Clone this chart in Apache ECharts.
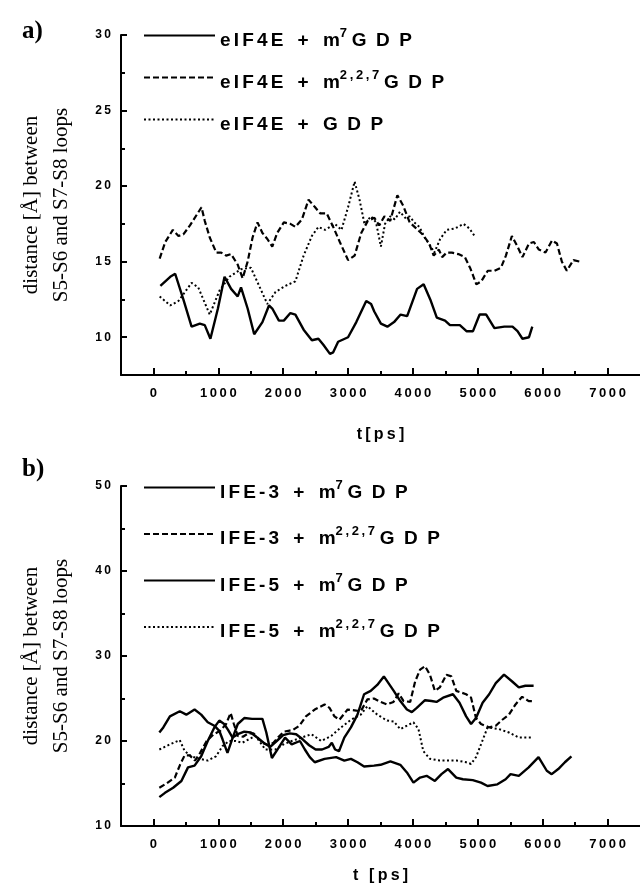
<!DOCTYPE html>
<html>
<head>
<meta charset="utf-8">
<script src="https://cdn.jsdelivr.net/npm/echarts@6/dist/echarts.min.js"></script>
<style>
  html, body { margin: 0; padding: 0; background: #fff; }
  #main { width: 640px; height: 889px; }
</style>
</head>
<body>
<div id="main"></div>
<script>
// ---- data: [t (ps), distance (Å)] ----
const eif4eM7 = [[107,13.4],[259,14.0],[335,14.2],[461,12.5],[588,10.7],[715,10.9],[791,10.8],[878,9.9],[994,11.9],[1096,14.0],[1197,13.2],[1299,12.7],[1350,13.3],[1452,11.9],[1553,10.2],[1680,11.0],[1781,12.1],[1832,11.9],[1934,11.1],[2010,11.1],[2111,11.6],[2188,11.5],[2315,10.5],[2442,9.8],[2543,9.9],[2619,9.5],[2721,8.9],[2771,9.0],[2847,9.7],[3000,10.0],[3127,11.0],[3280,12.4],[3355,12.2],[3404,11.7],[3506,10.9],[3606,10.7],[3709,11.0],[3810,11.5],[3911,11.4],[4064,13.2],[4165,13.5],[4267,12.5],[4368,11.3],[4495,11.1],[4571,10.8],[4723,10.8],[4825,10.4],[4926,10.4],[5028,11.5],[5129,11.5],[5256,10.6],[5409,10.7],[5535,10.7],[5612,10.4],[5688,9.9],[5789,10.0],[5840,10.7]]
const eif4eM227 = [[96,15.2],[182,16.3],[299,17.1],[386,16.7],[461,16.8],[563,17.4],[741,18.6],[791,17.7],[868,16.6],[969,15.6],[1045,15.6],[1121,15.4],[1197,15.5],[1299,14.8],[1375,13.9],[1452,15.0],[1528,16.6],[1604,17.6],[1680,16.9],[1756,16.5],[1832,16.0],[1908,16.9],[2010,17.6],[2111,17.5],[2188,17.3],[2289,17.8],[2391,19.1],[2492,18.6],[2569,18.2],[2670,18.2],[2771,17.3],[2873,16.3],[3000,15.1],[3101,15.4],[3203,16.9],[3304,17.7],[3406,17.9],[3480,17.4],[3560,18.0],[3650,17.7],[3760,19.4],[3850,18.7],[3950,17.6],[4050,17.2],[4150,16.8],[4250,16.2],[4320,15.4],[4400,15.8],[4450,15.3],[4520,15.6],[4600,15.6],[4700,15.5],[4800,15.3],[4880,14.6],[4926,14.1],[4977,13.5],[5053,13.7],[5154,14.4],[5256,14.4],[5357,14.6],[5433,15.4],[5525,16.7],[5611,16.0],[5688,15.3],[5789,16.2],[5865,16.3],[5941,15.8],[6043,15.6],[6144,16.4],[6220,16.2],[6296,15.0],[6372,14.4],[6474,15.1],[6575,15.0]]
const eif4eGdp = [[96,12.7],[259,12.1],[386,12.4],[588,13.6],[690,13.3],[868,11.5],[1020,13.1],[1172,14.0],[1350,14.5],[1502,14.6],[1629,13.4],[1756,12.2],[1883,13.0],[2035,13.4],[2188,13.7],[2315,15.4],[2442,16.7],[2543,17.3],[2645,17.1],[2797,17.5],[2898,17.1],[3000,18.6],[3101,20.3],[3177,19.1],[3253,17.5],[3355,18.0],[3431,17.6],[3506,16.0],[3570,17.5],[3650,18.0],[3720,17.8],[3800,18.3],[3880,17.9],[3950,18.0],[4020,17.6],[4100,17.3],[4180,16.6],[4260,16.1],[4330,15.6],[4420,16.5],[4520,17.1],[4650,17.2],[4780,17.5],[4870,17.2],[4950,16.7]]

const ife3M7 = [[91,21.0],[152,21.6],[254,22.9],[406,23.5],[507,23.1],[634,23.7],[736,23.1],[837,22.2],[939,21.8],[1015,21.2],[1065,20.2],[1141,18.6],[1218,20.3],[1300,22.0],[1400,22.7],[1520,22.6],[1680,22.6],[1740,21.0],[1826,18.0],[1928,19.2],[2029,20.4],[2131,19.6],[2258,20.0],[2334,19.0],[2410,18.1],[2486,17.5],[2638,17.9],[2816,18.1],[2942,17.7],[3044,17.9],[3145,17.5],[3247,17.0],[3399,17.1],[3501,17.2],[3653,17.6],[3805,17.2],[3907,16.3],[4008,15.1],[4110,15.7],[4211,15.9],[4338,15.3],[4440,16.1],[4541,16.7],[4668,15.7],[4770,15.5],[4922,15.4],[5049,15.1],[5150,14.7],[5302,14.9],[5429,15.5],[5505,16.1],[5632,15.9],[5784,16.9],[5936,18.1],[6063,16.5],[6139,16.1],[6240,16.7],[6342,17.5],[6443,18.2]]
const ife3M227 = [[91,14.5],[200,15.0],[330,15.7],[410,17.2],[480,18.3],[560,18.3],[640,17.7],[720,18.6],[820,20.0],[930,20.8],[1030,21.2],[1120,22.0],[1190,23.3],[1240,22.0],[1300,20.6],[1380,20.5],[1460,20.9],[1540,20.9],[1620,20.3],[1700,19.7],[1780,19.5],[1850,19.8],[1930,20.5],[2010,21.1],[2080,21.2],[2150,21.3],[2250,21.8],[2350,22.9],[2486,23.7],[2638,24.3],[2714,23.9],[2790,22.9],[2866,22.5],[2993,23.7],[3100,23.6],[3196,23.5],[3298,24.9],[3400,25.0],[3500,24.6],[3600,24.3],[3700,24.6],[3780,25.6],[3856,24.7],[3958,24.6],[4034,27.0],[4110,28.4],[4186,28.8],[4262,27.8],[4338,25.9],[4414,26.3],[4516,27.8],[4592,27.6],[4668,25.9],[4820,25.5],[4896,25.1],[4972,22.7],[5049,22.0],[5175,21.6],[5277,21.8],[5378,22.5],[5480,23.1],[5581,24.3],[5683,25.2],[5784,24.7],[5860,24.7]]
const ife5M7 = [[91,13.4],[178,13.9],[304,14.5],[431,15.3],[533,16.9],[634,17.1],[736,18.2],[837,20.0],[939,21.6],[1015,22.4],[1090,22.0],[1150,21.3],[1220,20.4],[1300,20.8],[1400,21.1],[1500,21.0],[1600,20.4],[1700,19.8],[1800,19.3],[1900,20.0],[2000,20.7],[2100,20.9],[2200,20.8],[2300,20.2],[2400,19.5],[2500,19.0],[2600,19.0],[2700,19.3],[2750,19.8],[2800,19.0],[2860,18.8],[2942,20.4],[3044,21.6],[3145,23.1],[3247,25.5],[3349,25.9],[3450,26.6],[3552,27.6],[3704,25.9],[3805,24.7],[3907,23.7],[3983,23.4],[4059,23.9],[4186,24.8],[4287,24.7],[4363,24.6],[4465,25.1],[4617,25.5],[4718,24.5],[4820,22.9],[4896,22.0],[4972,22.7],[5074,24.5],[5175,25.5],[5277,26.8],[5404,27.8],[5530,27.0],[5632,26.3],[5733,26.5],[5860,26.5]]
const ife5M227 = [[91,19.0],[254,19.6],[406,20.1],[482,18.8],[583,18.2],[710,17.9],[837,17.7],[964,18.2],[1065,19.4],[1167,20.0],[1268,20.0],[1370,19.8],[1471,20.2],[1573,20.6],[1650,19.8],[1725,19.0],[1877,19.0],[2004,19.6],[2131,20.0],[2283,20.4],[2435,20.8],[2587,20.0],[2740,20.6],[2892,21.6],[3044,22.5],[3196,23.1],[3298,24.1],[3450,23.1],[3602,22.4],[3704,22.3],[3805,21.4],[3907,21.8],[4008,22.2],[4085,21.4],[4160,18.8],[4262,17.9],[4414,17.7],[4668,17.7],[4820,17.5],[4896,17.3],[4972,18.1],[5049,19.6],[5150,21.6],[5327,21.4],[5480,21.0],[5632,20.4],[5835,20.4]]

// tick values
const xTicks = [0, 1000, 2000, 3000, 4000, 5000, 6000, 7000]
const xMinorTicks = [500, 1500, 2500, 3500, 4500, 5500, 6500]
const yTicksA = [10, 15, 20, 25, 30]
const yMinorTicksA = [12.5, 17.5, 22.5, 27.5]
const yTicksB = [10, 20, 30, 40, 50]
const yMinorTicksB = [15, 25, 35, 45]

const namesA = ['eIF4E + m7GDP', 'eIF4E + m2,2,7GDP', 'eIF4E + GDP']
const namesB = ['IFE-3 + m7GDP', 'IFE-3 + m2,2,7GDP', 'IFE-5 + m7GDP', 'IFE-5 + m2,2,7GDP']

const SANS = 'Liberation Sans, Arial, sans-serif'
const SERIF = 'Liberation Serif, Times New Roman, serif'

// the figure's lettering is widely tracked
function spaced(s, sp) {
  return String(s).split('').join(sp || '\u2009')
}

// "eIF4E + m2,2,7GDP" -> rich text with the methylation positions raised
function legendText(name) {
  const parts = name.split(' + ')
  const rest = parts[1].match(/^(m?)([\d,]*)(GDP)$/)
  let s = '{n|' + spaced(parts[0], '\u2006') + '\u2002\u2005+\u2002\u2005' + rest[1] + '}'
  if (rest[2]) s += '{s|' + spaced(rest[2]) + '}{n|\u2005}'
  s += '{n|' + spaced(rest[3], '\u2002') + '}'
  return s
}

const solid = { type: 'solid', width: 2.4 }
const dashed = { type: [6, 3], width: 2.2 }
const dotted = { type: [2, 2.5], width: 2 }

function xAxes(gridIndex, name, nameGap) {
  return [
    {
      type: 'value', gridIndex, min: -500, max: 7500, position: 'bottom',
      name, nameLocation: 'middle', nameGap,
      nameTextStyle: { fontFamily: SANS, fontSize: 16, fontWeight: 'bold', color: '#000' },
      axisLine: { onZero: false, lineStyle: { color: '#000', width: 2 } },
      axisTick: { inside: true, length: 7, customValues: xTicks, lineStyle: { color: '#000', width: 2 } },
      axisLabel: {
        customValues: xTicks, margin: 12, color: '#000', fontFamily: SANS,
        fontSize: 13, fontWeight: 'bold', formatter: (v) => spaced(v)
      },
      splitLine: { show: false }
    },
    {
      type: 'value', gridIndex, min: -500, max: 7500, position: 'bottom',
      axisLine: { show: false, onZero: false },
      axisTick: { inside: true, length: 4, customValues: xMinorTicks, lineStyle: { color: '#000', width: 2 } },
      axisLabel: { show: false },
      splitLine: { show: false }
    }
  ]
}

function yAxes(gridIndex, min, max, ticks, minor) {
  return [
    {
      type: 'value', gridIndex, min, max, position: 'left',
      name: 'distance [Å] between\nS5-S6 and S7-S8 loops',
      nameLocation: 'middle', nameGap: 45,
      nameTextStyle: { fontFamily: SERIF, fontSize: 21, lineHeight: 30, color: '#000' },
      axisLine: { show: true, onZero: false, lineStyle: { color: '#000', width: 2 } },
      axisTick: { show: true, inside: true, length: 6, customValues: ticks, lineStyle: { color: '#000', width: 2 } },
      axisLabel: {
        customValues: ticks, margin: 10, color: '#000', fontFamily: SANS,
        fontSize: 12, fontWeight: 'bold', formatter: (v) => spaced(v)
      },
      splitLine: { show: false }
    },
    {
      type: 'value', gridIndex, min, max, position: 'left',
      axisLine: { show: false, onZero: false },
      axisTick: { show: true, inside: true, length: 4, customValues: minor, lineStyle: { color: '#000', width: 2 } },
      axisLabel: { show: false },
      splitLine: { show: false }
    }
  ]
}

function line(name, data, style, axisIndex) {
  return {
    name, type: 'line', data, xAxisIndex: axisIndex, yAxisIndex: axisIndex,
    symbol: 'none', smooth: false, animation: false,
    lineStyle: Object.assign({ color: '#000' }, style),
    itemStyle: { color: '#000' }
  }
}

const legendRich = {
  n: { fontFamily: SANS, fontSize: 19, fontWeight: 'bold', color: '#000', lineHeight: 22, padding: [10, 0, 0, 0] },
  s: { fontFamily: SANS, fontSize: 13, fontWeight: 'bold', color: '#000', verticalAlign: 'top', padding: [2, 0, 0, 0] }
}

const legendBase = {
  orient: 'vertical', left: 143, padding: 0,
  itemWidth: 71, itemHeight: 14,
  // only the line style is wanted as key, no symbol
  itemStyle: { opacity: 0 },
  formatter: legendText, textStyle: { rich: legendRich }
}

const chart = echarts.init(document.getElementById('main'), null, { renderer: 'canvas' })
chart.setOption({
  backgroundColor: '#fff',
  animation: false,
  title: [
    { text: 'a)', left: 17, top: 14, textStyle: { fontFamily: SERIF, fontSize: 25, fontWeight: 'bold', color: '#000' } },
    { text: 'b)', left: 17, top: 452, textStyle: { fontFamily: SERIF, fontSize: 25, fontWeight: 'bold', color: '#000' } }
  ],
  grid: [
    { left: 121, top: 35, width: 526, height: 340 },
    { left: 121, top: 486, width: 526, height: 340 }
  ],
  legend: [
    Object.assign({ data: namesA, top: 21, itemGap: 13 }, legendBase),
    Object.assign({ data: namesB, top: 473, itemGap: 17.5 }, legendBase)
  ],
  xAxis: [].concat(xAxes(0, spaced('t[ps]'), 52), xAxes(1, spaced('t [ps]'), 42)),
  yAxis: [].concat(yAxes(0, 7.5, 30, yTicksA, yMinorTicksA), yAxes(1, 10, 50, yTicksB, yMinorTicksB)),
  series: [
    line(namesA[0], eif4eM7, solid, 0),
    line(namesA[1], eif4eM227, dashed, 0),
    line(namesA[2], eif4eGdp, dotted, 0),
    line(namesB[0], ife3M7, solid, 2),
    line(namesB[1], ife3M227, dashed, 2),
    line(namesB[2], ife5M7, solid, 2),
    line(namesB[3], ife5M227, dotted, 2)
  ]
})
</script>
</body>
</html>
